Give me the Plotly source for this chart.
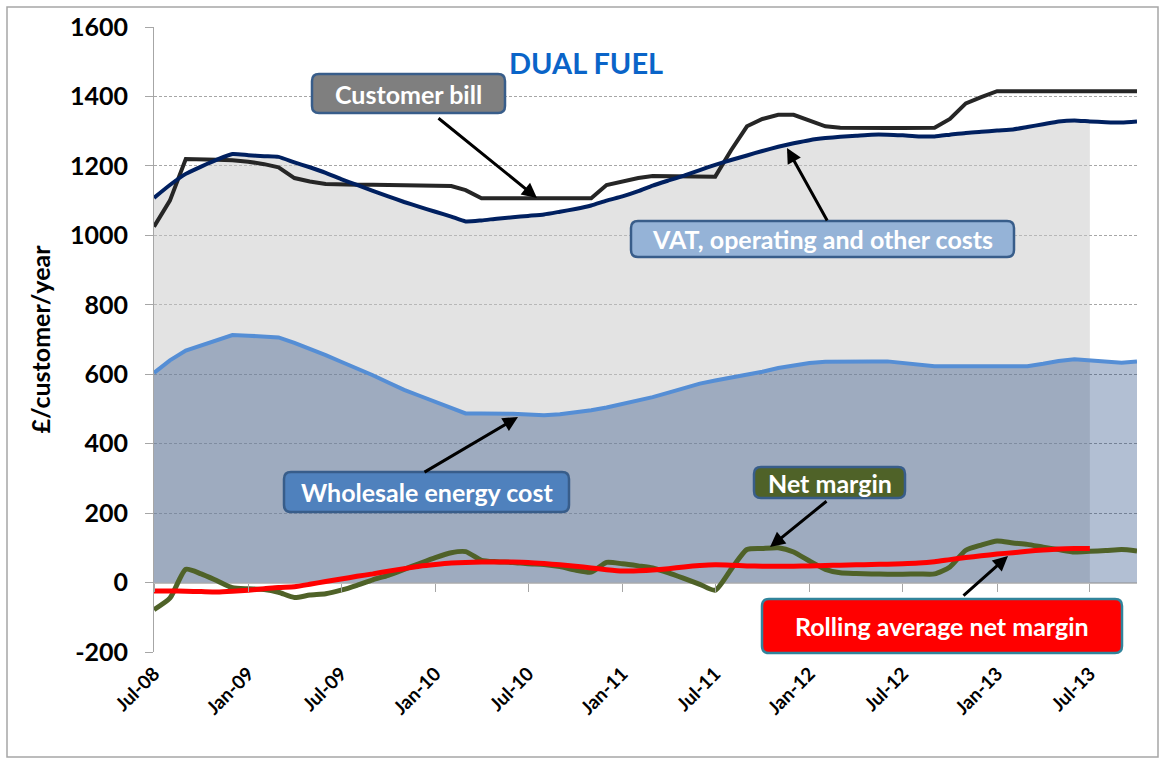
import plotly.graph_objects as go
import pandas as pd

# ---- data (monthly, Jul-08 .. Oct-13) ----
months = pd.date_range("2008-07-01", periods=64, freq="MS")

customer_bill = [1025, 1100, 1220, 1220, 1218, 1216, 1212, 1205, 1196, 1165,
                 1155, 1148, 1146, 1146, 1146, 1145, 1144, 1144, 1143, 1142,
                 1130, 1107, 1107, 1107, 1107, 1105, 1105, 1106, 1107, 1145,
                 1155, 1165, 1171, 1170, 1170, 1169, 1169, 1245, 1314, 1335,
                 1347, 1347, 1330, 1314, 1310, 1309, 1309, 1309, 1309, 1309,
                 1310, 1335, 1380, 1398, 1415, 1415, 1415, 1415, 1415, 1415,
                 1415, 1415, 1415, 1415]

other_costs = [1108, 1145, 1177, 1198, 1218, 1234, 1231, 1228, 1226, 1210,
               1196, 1180, 1162, 1145, 1128, 1112, 1096, 1082, 1068, 1054,
               1040, 1043, 1048, 1052, 1056, 1060, 1068, 1076, 1086, 1100,
               1112, 1127, 1143, 1158, 1172, 1188, 1203, 1217, 1230, 1243,
               1255, 1265, 1274, 1280, 1284, 1287, 1290, 1290, 1288, 1285,
               1285, 1290, 1295, 1298, 1302, 1305, 1312, 1320, 1328, 1331,
               1328, 1326, 1325, 1328]

wholesale = [604, 640, 668, 683, 698, 713, 711, 709, 706, 690,
             674, 655, 636, 617, 597, 576, 555, 538, 521, 504,
             487, 487, 487, 486, 484, 482, 485, 490, 496, 504,
             514, 524, 534, 547, 560, 573, 582, 590, 598, 607,
             618, 626, 632, 636, 637, 637, 637, 637, 633, 628,
             623, 623, 623, 623, 623, 623, 623, 630, 638, 643,
             640, 636, 633, 637]

net_margin = [-78, -45, 38, 25, 5, -15, -18, -20, -28, -43,
              -36, -32, -22, -8, 8, 21, 38, 55, 72, 86,
              89, 64, 60, 58, 54, 52, 46, 36, 30, 58,
              54, 48, 42, 28, 12, -5, -22, 38, 95, 98,
              100, 88, 62, 38, 28, 26, 25, 24, 24, 25,
              25, 45, 93, 108, 120, 114, 110, 102, 95, 88,
              90, 92, 95, 91]

rolling_avg = [-24, -24, -25, -26, -27, -25, -22, -18, -14, -12,
               -5, 3, 10, 18, 25, 33, 40, 47, 52, 56,
               58, 59, 59, 59, 58, 55, 51, 47, 42, 37,
               33, 34, 36, 40, 45, 49, 51, 50, 48, 47,
               47, 47, 48, 49, 50, 51, 52, 53, 54, 56,
               60, 66, 72, 77, 82, 86, 90, 94, 97, 98,
               98]

y_ticks = [-200, 0, 200, 400, 600, 800, 1000, 1200, 1400, 1600]
y_tick_text = ["-200", "0", "200", "400", "600", "800", "1000", "1200", "1400", "1600"]

n_cost_area = len(rolling_avg)  # cost shading runs to Jul-13

FONT = "Lato"

# plot-area geometry (pixels) used to place callout boxes in paper coordinates
PL, PR, PT, PB = 154, 1137, 27, 652


def px(x):
    return (x - PL) / (PR - PL)


def py(y):
    return (PB - y) / (PB - PT)


def rounded_rect(x0, y0, x1, y1, r=7):
    pts = [
        f"M {px(x0 + r)},{py(y0)}", f"L {px(x1 - r)},{py(y0)}",
        f"Q {px(x1)},{py(y0)} {px(x1)},{py(y0 + r)}", f"L {px(x1)},{py(y1 - r)}",
        f"Q {px(x1)},{py(y1)} {px(x1 - r)},{py(y1)}", f"L {px(x0 + r)},{py(y1)}",
        f"Q {px(x0)},{py(y1)} {px(x0)},{py(y1 - r)}", f"L {px(x0)},{py(y0 + r)}",
        f"Q {px(x0)},{py(y0)} {px(x0 + r)},{py(y0)}", "Z",
    ]
    return " ".join(pts)


fig = go.Figure()

# shaded areas
fig.add_trace(go.Scatter(x=months[:n_cost_area], y=other_costs[:n_cost_area],
                         mode="lines", line=dict(width=0), fill="tozeroy",
                         fillcolor="rgba(200,200,200,0.5)", hoverinfo="skip"))
fig.add_trace(go.Scatter(x=months, y=wholesale, mode="lines", line=dict(width=0),
                         fill="tozeroy", fillcolor="rgba(0,42,108,0.3)", hoverinfo="skip"))

# lines
fig.add_trace(go.Scatter(x=months, y=wholesale, mode="lines",
                         line=dict(color="#558ed5", width=4)))
fig.add_trace(go.Scatter(x=months, y=customer_bill, mode="lines",
                         line=dict(color="#262626", width=4)))
fig.add_trace(go.Scatter(x=months, y=other_costs, mode="lines",
                         line=dict(color="#002060", width=4, shape="spline", smoothing=0.5)))
fig.add_trace(go.Scatter(x=months, y=net_margin, mode="lines",
                         line=dict(color="#4f6228", width=5, shape="spline", smoothing=0.6)))
fig.add_trace(go.Scatter(x=months[:n_cost_area], y=rolling_avg, mode="lines", xaxis="x2",
                         line=dict(color="#ff0000", width=5, shape="spline", smoothing=0.6)))

xr = ["2008-07-01", "2013-10-01"]

fig.update_layout(
    width=1159, height=758,
    margin=dict(l=PL, r=1159 - PR, t=PT, b=758 - PB),
    paper_bgcolor="white", plot_bgcolor="white",
    showlegend=False,
    font=dict(family=FONT, color="black"),
    xaxis=dict(type="date", range=xr, showgrid=False, showline=False, zeroline=False,
               ticks="", tick0="2008-07-01", dtick="M6", tickformat="%b-%y",
               tickangle=-45, tickfont=dict(family=FONT, size=19, weight="bold"),
               ticklabelstandoff=6),
    xaxis2=dict(type="date", range=xr, overlaying="x", anchor="free", position=200/1800,
                showgrid=False, showline=False, zeroline=False, showticklabels=False,
                ticks="outside", ticklen=8, tickcolor="#a6a6a6", tickwidth=1,
                tick0="2008-07-01", dtick="M6"),
    yaxis=dict(range=[-200, 1600], tickvals=y_ticks, ticktext=y_tick_text,
               showgrid=True, gridcolor="#a6a6a6",
               griddash="3px,2px", gridwidth=1, zeroline=True, zerolinecolor="#bfbfbf",
               zerolinewidth=1.5, showline=True, linecolor="#a6a6a6", linewidth=1,
               ticks="outside", ticklen=8, tickcolor="#a6a6a6", ticklabelstandoff=12,
               tickfont=dict(family=FONT, size=25, weight="bold"),
               title=dict(text="£/customer/year", standoff=12,
                          font=dict(family=FONT, size=25, weight="bold"))),
)

# chart border
fig.add_shape(type="rect", xref="paper", yref="paper",
              x0=px(7), x1=px(1158), y0=py(757), y1=py(7),
              line=dict(color="#a6a6a6", width=1.5), layer="below")

# title
fig.add_annotation(text="DUAL FUEL", xref="paper", yref="paper", x=px(586), y=py(43),
                   showarrow=False, font=dict(family=FONT, size=29, weight="bold", color="#0a64c8"))

# callout boxes: (text, left, top, right, bottom [px], fill, border)
labels = [
    ("Customer bill", 312, 74, 505, 113, "#7f7f7f", "#385d8a"),
    ("VAT, operating and other costs", 631, 221, 1014, 257, "#95b3d7", "#385d8a"),
    ("Wholesale energy cost", 284, 472, 569, 512, "#4f81bd", "#385d8a"),
    ("Net margin", 754, 467, 905, 498, "#4f6228", "#385d8a"),
    ("Rolling average net margin", 762, 599, 1122, 653, "#ff0000", "#31849b"),
]
for t, x0, y0, x1, y1, fc, bc in labels:
    fig.add_shape(type="path", xref="paper", yref="paper", path=rounded_rect(x0, y0, x1, y1),
                  fillcolor=fc, line=dict(color=bc, width=2.5), layer="above")
    fig.add_annotation(text=t, xref="paper", yref="paper", x=px((x0 + x1) / 2),
                       y=py((y0 + y1) / 2), xanchor="center", yanchor="middle",
                       showarrow=False,
                       font=dict(family=FONT, size=25, weight="bold", color="white"))

# arrows: (head_x, head_y, tail_x, tail_y) in px
arrows = [
    (537, 198, 437, 117),
    (787, 148, 828, 222),
    (518, 417, 423, 473),
    (770, 547, 828, 500),
    (1008, 556, 962, 597),
]
for hx, hy, tx, ty in arrows:
    fig.add_annotation(text="", xref="paper", yref="paper", x=px(hx), y=py(hy),
                       ax=tx - hx, ay=ty - hy,
                       showarrow=True, arrowhead=2, arrowsize=1, arrowwidth=3,
                       arrowcolor="black", standoff=0)

fig.write_html("out.html", post_script="document.body.style.margin='0px';",
               config={"displayModeBar": False})
